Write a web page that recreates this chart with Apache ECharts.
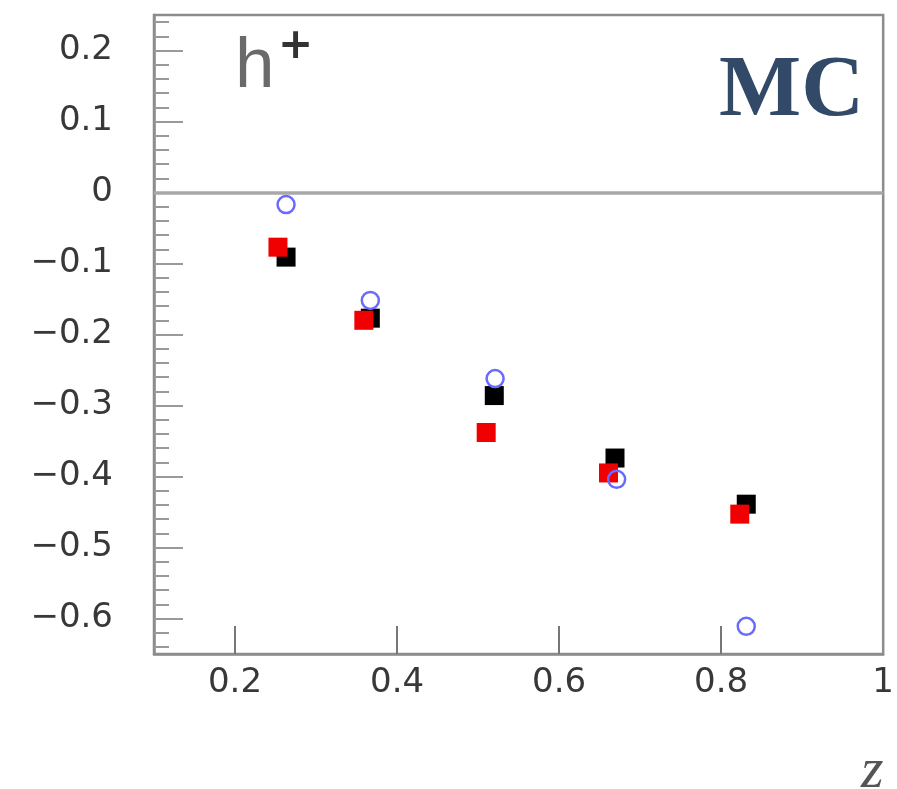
<!DOCTYPE html>
<html>
<head>
<meta charset="utf-8">
<script src="https://cdn.jsdelivr.net/npm/echarts@6/dist/echarts.min.js"></script>
<style>
html,body{margin:0;padding:0;background:#fff;}
#chart{width:897px;height:789px;}
</style>
</head>
<body>
<div id="chart"></div>
<script>
// z values and asymmetries
var blackZ = [0.263, 0.367, 0.520, 0.669, 0.831];
var blackA = [-0.091, -0.177, -0.286, -0.374, -0.439];
var redZ   = [0.253, 0.359, 0.510, 0.661, 0.823];
var redA   = [-0.077, -0.180, -0.338, -0.395, -0.453];
var blueZ  = [0.263, 0.367, 0.521, 0.671, 0.831];
var blueA  = [-0.017, -0.152, -0.262, -0.404, -0.611];

var xTicks = [0.2, 0.4, 0.6, 0.8];
var xLabels = [0.2, 0.4, 0.6, 0.8, 1];
var yTicks = [-0.6, -0.5, -0.4, -0.3, -0.2, -0.1, 0, 0.1, 0.2];
var yMinorTicks = [-0.64, -0.62, -0.58, -0.56, -0.54, -0.52, -0.48, -0.46, -0.44, -0.42,
  -0.38, -0.36, -0.34, -0.32, -0.28, -0.26, -0.24, -0.22, -0.18, -0.16, -0.14, -0.12,
  -0.08, -0.06, -0.04, -0.02, 0.02, 0.04, 0.06, 0.08, 0.12, 0.14, 0.16, 0.18, 0.22, 0.24];

function pairs(xs, ys){ return xs.map(function(x,i){ return [x, ys[i]]; }); }
function fmt(v){ return v < 0 ? '\u2212' + Math.abs(v) : String(v); }

var axisGray = '#8c8c8c';
var labelStyle = { fontFamily: 'DejaVu Sans', fontSize: 34, color: '#383838' };

var chart = echarts.init(document.getElementById('chart'));
chart.setOption({
  animation: false,
  backgroundColor: '#fff',
  grid: { left: 154, right: 10, top: 15, bottom: 135, show: true, borderColor: axisGray, borderWidth: 2.5 },
  xAxis: {
    type: 'value', min: 0.1, max: 1,
    splitLine: { show: false },
    axisLine: { show: true, onZero: false, lineStyle: { color: axisGray, width: 2.5 } },
    axisTick: { show: true, inside: true, length: 28, customValues: xTicks, lineStyle: { color: '#777', width: 2 } },
    axisLabel: Object.assign({ margin: 12, customValues: xLabels, formatter: fmt }, labelStyle)
  },
  yAxis: [{
    type: 'value', min: -0.65, max: 0.25,
    splitLine: { show: false },
    axisLine: { show: true, onZero: false, lineStyle: { color: axisGray, width: 2.5 } },
    axisTick: { show: true, inside: true, length: 29, customValues: yTicks, lineStyle: { color: '#999', width: 2 } },
    axisLabel: Object.assign({ margin: 41, customValues: yTicks, formatter: fmt }, labelStyle)
  }, {
    type: 'value', min: -0.65, max: 0.25, position: 'left',
    splitLine: { show: false },
    axisLine: { show: false },
    axisTick: { show: true, inside: true, length: 15, customValues: yMinorTicks, lineStyle: { color: '#999', width: 2 } },
    axisLabel: { show: false }
  }],
  series: [{
    type: 'scatter', name: 'black', data: pairs(blackZ, blackA),
    symbol: 'rect', symbolSize: 19, itemStyle: { color: '#000', opacity: 1 },
    markLine: {
      silent: true, symbol: 'none', label: { show: false },
      lineStyle: { color: '#a8a8a8', width: 3.5, type: 'solid' },
      data: [{ yAxis: 0 }]
    }
  }, {
    type: 'scatter', name: 'red', data: pairs(redZ, redA),
    symbol: 'rect', symbolSize: 19, itemStyle: { color: '#f00000', opacity: 1 }
  }, {
    type: 'scatter', name: 'blue', data: pairs(blueZ, blueA),
    symbol: 'circle', symbolSize: 17,
    itemStyle: { color: 'rgba(0,0,0,0)', borderColor: '#6a6aff', borderWidth: 2.5, opacity: 1 }
  }],
  graphic: [
    { type: 'text', left: 235, top: 32, style: { text: 'h', font: '71px "Liberation Sans"', fill: '#6a6a6a' } },
    { type: 'text', left: 278, top: 26, style: { text: '+', font: 'bold 42px "DejaVu Sans"', fill: '#333' } },
    { type: 'text', right: 33, top: 49, style: { text: 'MC', font: 'bold 87px "Liberation Serif"', fill: '#324a67' } },
    { type: 'text', left: 861, top: 743, style: { text: 'z', font: 'italic 58px "Liberation Serif"', fill: '#555' } }
  ]
});
</script>
</body>
</html>
